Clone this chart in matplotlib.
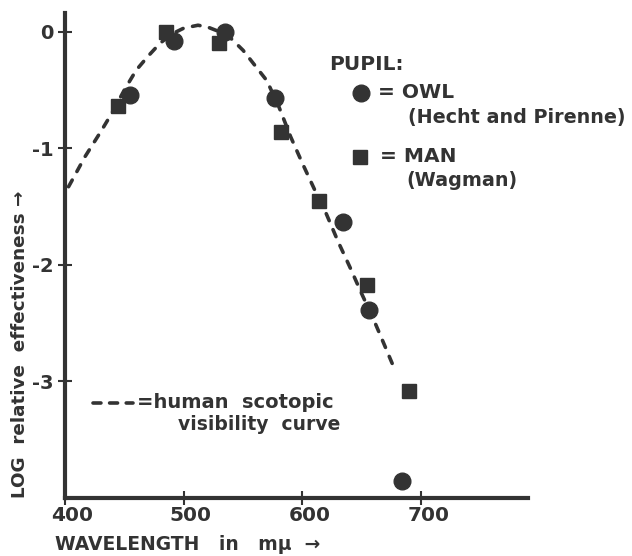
import matplotlib
matplotlib.use("Agg")
import matplotlib.pyplot as plt
from matplotlib.transforms import ScaledTranslation

# owl pupil (Hecht and Pirenne)
owl_wl = [455, 492, 535, 577, 634, 656, 684]
owl_log = [-0.54, -0.08, 0.0, -0.57, -1.63, -2.39, -3.85]

# man pupil (Wagman)
man_wl = [445, 485, 530, 582, 614, 654, 690]
man_log = [-0.64, 0.0, -0.10, -0.86, -1.45, -2.17, -3.08]

# human scotopic visibility curve
curve_wl = [403, 410, 417, 430, 440, 450, 460, 470, 480, 490, 500, 512, 520,
            530, 540, 550, 560, 570, 580, 590, 600, 610, 620, 630, 640, 650,
            660, 670, 677]
curve_log = [-1.33, -1.20, -1.07, -0.86, -0.69, -0.50, -0.33, -0.21, -0.10,
             -0.02, 0.03, 0.055, 0.04, 0.0, -0.06, -0.16, -0.29, -0.42, -0.64,
             -0.90, -1.13, -1.35, -1.56, -1.80, -2.02, -2.25, -2.47, -2.71, -2.88]

xticks = [400, 500, 600, 700]
yticks = [0, -1, -2, -3]
ytick_labels = ["0", "-1", "-2", "-3"]

ink = "#333333"
plt.rcParams['font.family'] = ['DejaVu Sans']
plt.rcParams['font.weight'] = 'bold'

fig = plt.figure(figsize=(6.32, 5.56), dpi=100)
ax = fig.add_axes([65 / 632, 1 - 498 / 556, 463 / 632, 485 / 556])

dash = (2.1, 2.7)
ax.plot(curve_wl, curve_log, color=ink, lw=2.6, dashes=dash,
        dash_capstyle='round')
ax.plot(owl_wl, owl_log, 'o', color=ink, ms=12, clip_on=False)
ax.plot(man_wl, man_log, 's', color=ink, ms=10.5, clip_on=False)

ax.set_xlim(400, 790)
ax.set_ylim(-4, 0.16)
ax.spines['top'].set_visible(False)
ax.spines['right'].set_visible(False)
for s in ['left', 'bottom']:
    ax.spines[s].set_linewidth(3)
    ax.spines[s].set_color(ink)

ax.set_xticks(xticks)
ax.set_yticks(yticks)
ax.set_yticklabels(ytick_labels)
ax.tick_params(direction='inout', length=10, width=1.5, color=ink,
               labelcolor=ink, labelsize=14.5)
ax.tick_params(axis='y', pad=3, labelsize=14)
ax.tick_params(axis='x', pad=1)
for lab in ax.get_xticklabels():
    lab.set_transform(lab.get_transform() +
                      ScaledTranslation(0.07, 0, fig.dpi_scale_trans))

fig.text(55 / 632, 1 - 545 / 556, "WAVELENGTH   in   mμ  →", fontsize=13.5,
         color=ink, va='center', ha='left')
fig.text(20 / 632, 1 - 498 / 556, "LOG  relative  effectiveness →",
         fontsize=13.2, color=ink, rotation=90, ha='center', va='bottom')

# legend drawn as text
fig.text(329 / 632, 1 - 65 / 556, "PUPIL:", fontsize=14.5, color=ink,
         va='center', ha='left')
fig.lines.append(plt.Line2D([361 / 632], [1 - 93 / 556], marker='o', ms=12,
                            color=ink, transform=fig.transFigure))
fig.lines.append(plt.Line2D([360 / 632], [1 - 157 / 556], marker='s', ms=10.5,
                            color=ink, transform=fig.transFigure))
fig.text(378 / 632, 1 - 93 / 556, "= OWL", fontsize=14.5, color=ink,
         va='center', ha='left')
fig.text(408 / 632, 1 - 117 / 556, "(Hecht and Pirenne)", fontsize=13.8,
         color=ink, va='center', ha='left')
fig.text(380 / 632, 1 - 157 / 556, "= MAN", fontsize=14.5, color=ink,
         va='center', ha='left')
fig.text(406 / 632, 1 - 180 / 556, "(Wagman)", fontsize=13.8, color=ink,
         va='center', ha='left')

fig.lines.append(plt.Line2D([93 / 632, 133 / 632], [1 - 403 / 556] * 2,
                            color=ink, lw=2.6, dashes=(2.2, 2.4),
                            dash_capstyle='round',
                            transform=fig.transFigure))
fig.text(137 / 632, 1 - 403 / 556, "=human  scotopic", fontsize=14,
         color=ink, va='center', ha='left')
fig.text(178 / 632, 1 - 425 / 556, "visibility  curve", fontsize=13.5,
         color=ink, va='center', ha='left')

fig.savefig("out.png", dpi=100, facecolor='white')
